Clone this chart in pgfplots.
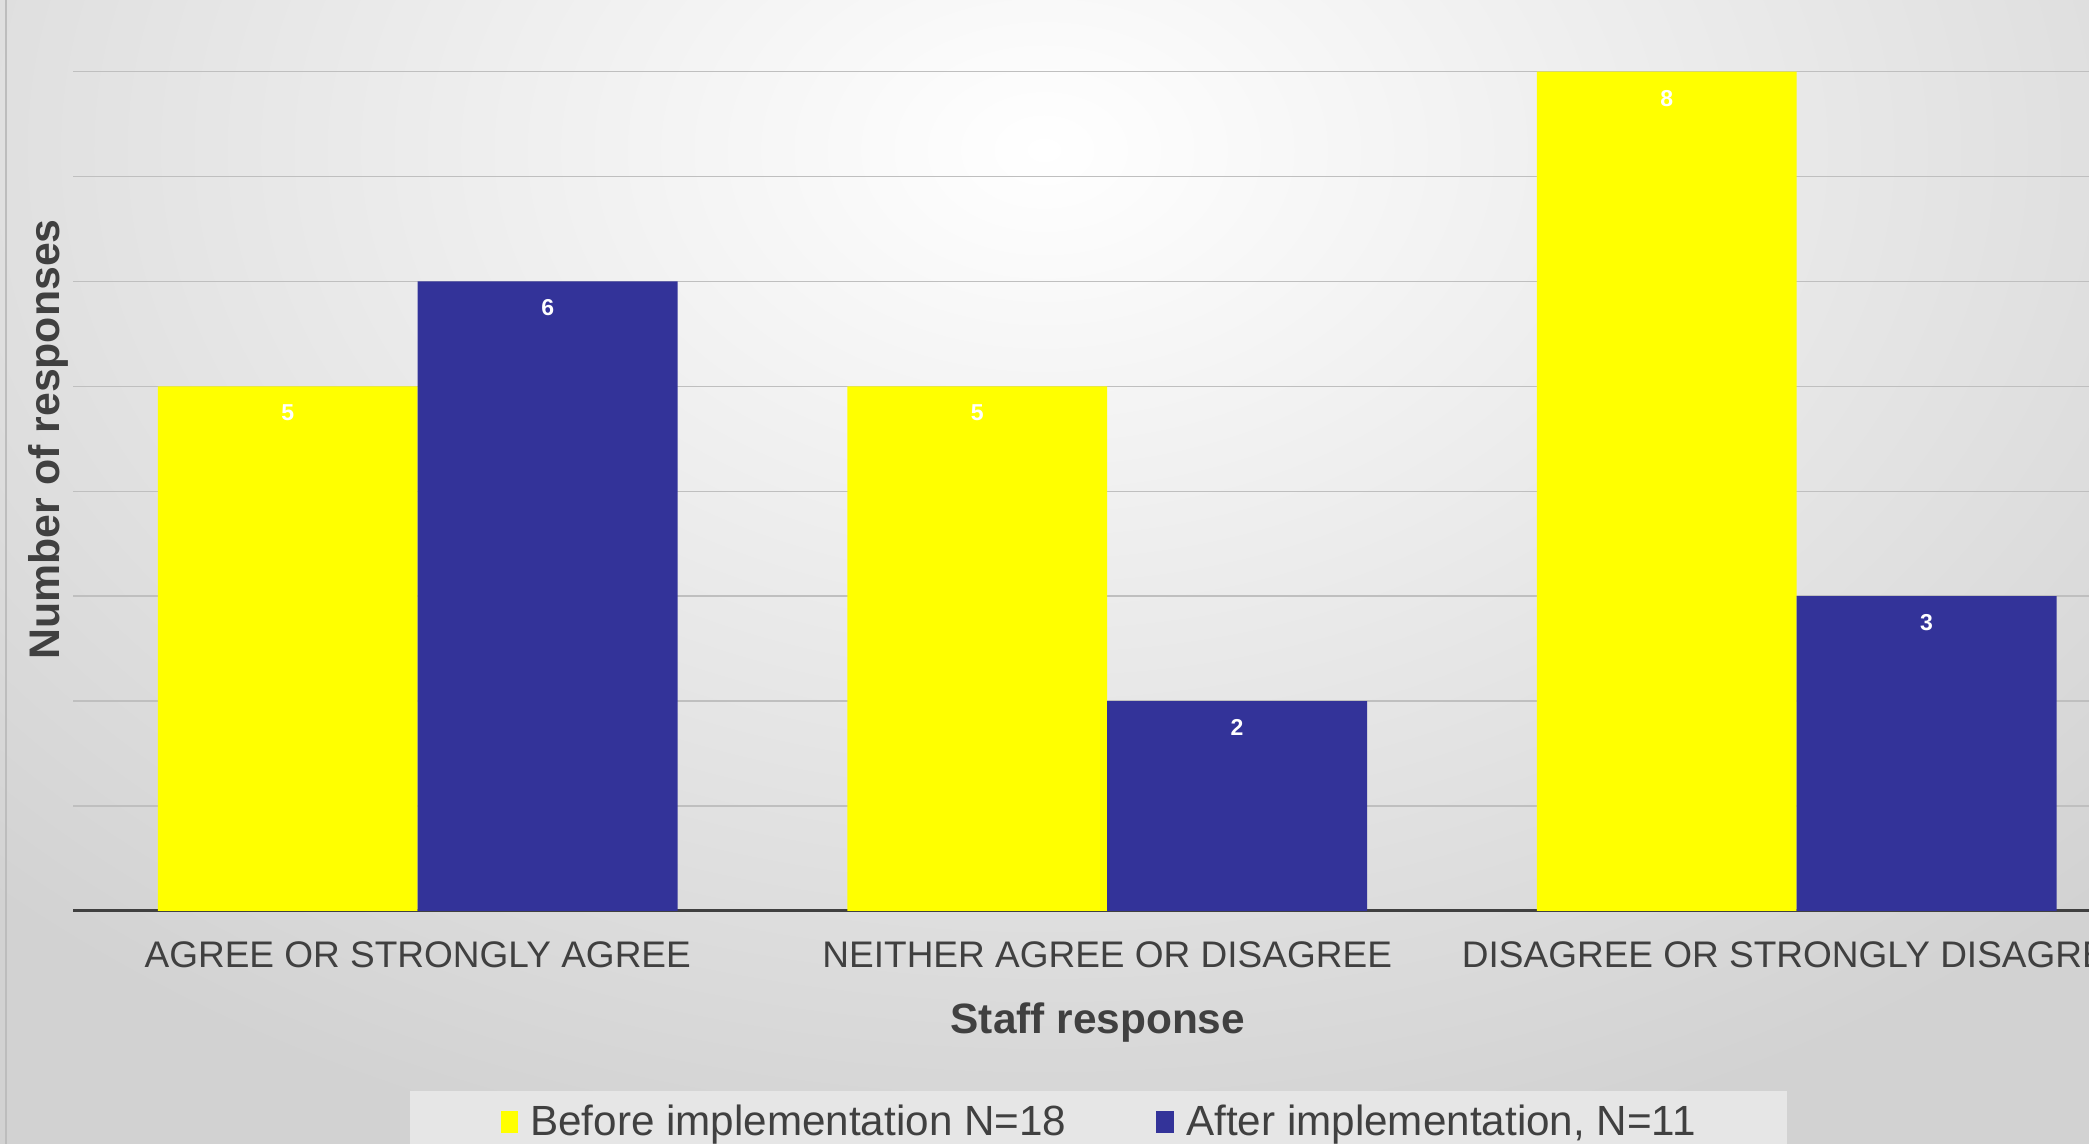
\documentclass[border=0pt]{standalone}
\usepackage{pgfplots}
\pgfplotsset{compat=1.18}
\usepackage{fontspec}
\setmainfont{Liberation Sans}
\definecolor{cyellow}{HTML}{FFFF00}
\definecolor{cblue}{HTML}{333399}
\definecolor{ctext}{HTML}{404040}
\definecolor{cbgout}{HTML}{D2D2D2}
\definecolor{clegbg}{HTML}{E6E6E6}
\definecolor{cgrid}{HTML}{BFBFBF}
\definecolor{cborder}{HTML}{BDBDBD}
\begin{document}
\begin{tikzpicture}
\shade[inner color=white, outer color=cbgout] (-228pt,-28pt) rectangle (1272pt,1022pt);
\draw[cborder, line width=1pt] (3pt,0pt) -- (3pt,572pt);
\begin{axis}[
  at={(36.5pt,116.5pt)}, anchor=south west,
  scale only axis, width=1034.25pt, height=419.7pt,
  xmin=-0.5, xmax=2.5, ymin=0, ymax=8,
  axis x line*=bottom, axis y line*=left,
  y axis line style={draw=none},
  x axis line style={draw=ctext, line width=1.5pt, -},
  xtick={0,1,2},
  xticklabels={AGREE OR STRONGLY AGREE, NEITHER AGREE OR DISAGREE, DISAGREE OR STRONGLY DISAGREE},
  ytick={1,2,3,4,5,6,7,8}, yticklabels={},
  major tick length=0pt,
  ymajorgrids, grid style={cgrid, line width=0.75pt},
  /pgf/number format/assume math mode=true,
  xticklabel style={font=\fontsize{18.5pt}{22pt}\selectfont, text=ctext, anchor=north, inner sep=0pt, yshift=-15pt},
  xlabel={Staff response},
  xlabel style={font=\bfseries\fontsize{21.2pt}{25pt}\selectfont, text=ctext, at={(axis description cs:0.4955,-0.1334)}, anchor=center},
  ylabel={Number of responses},
  ylabel style={font=\bfseries\fontsize{21.4pt}{25pt}\selectfont, text=ctext, at={(axis description cs:-0.0121,0.562)}, anchor=center},
  nodes near coords,
  every node near coord/.append style={font=\bfseries\fontsize{11.5pt}{13pt}\selectfont, text=white, anchor=north, inner sep=0pt, yshift=-9pt},
  legend columns=2,
  legend style={at={(axis description cs:0.1629,-0.2144)}, anchor=north west, draw=none, fill=clegbg,
    inner xsep=45.5pt, inner ysep=7pt, font=\fontsize{21.1pt}{25pt}\selectfont, text=ctext,
    nodes={inner sep=0pt},
    /tikz/every odd column/.append style={column sep=6pt},
    /tikz/every even column/.append style={column sep=45pt}},
]
\addplot[ybar, bar width=129.9pt, bar shift=-64.95pt, fill=cyellow, draw=none,
  every node near coord/.append style={xshift=-64.95pt},
  legend image code/.code={\fill[cyellow] (0pt,-5.5pt) rectangle (8.5pt,5.5pt);}]
  coordinates {(0,5) (1,5) (2,8)};
\addlegendentry{Before implementation N=18}
\addplot[ybar, bar width=129.9pt, bar shift=64.95pt, fill=cblue, draw=none,
  every node near coord/.append style={xshift=64.95pt},
  legend image code/.code={\fill[cblue] (0pt,-5.5pt) rectangle (9pt,5.5pt);}]
  coordinates {(0,6) (1,2) (2,3)};
\addlegendentry{After implementation, N=11}
\end{axis}
\pgfresetboundingbox
\path[use as bounding box] (0pt,0pt) rectangle (1044.5pt,572pt);
\end{tikzpicture}
\end{document}
